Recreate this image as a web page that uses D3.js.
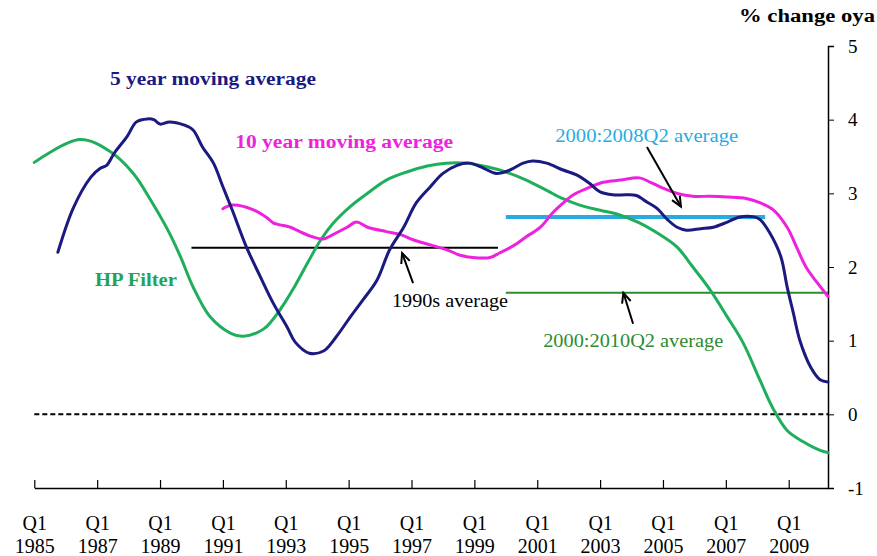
<!DOCTYPE html>
<html>
<head>
<meta charset="utf-8">
<script src="https://cdn.jsdelivr.net/npm/d3@7"></script>
<style>
  body { margin: 0; background: #fff; }
  text { font-family: 'Liberation Serif'; }
</style>
</head>
<body>
<div id="chart"></div>
<script>
// Series: [decimal year, % change oya]
const fiveYearMA = [
  [1985.75, 2.20], [1986.25, 2.81], [1986.8, 3.22], [1987.1, 3.34], [1987.3, 3.38],
  [1987.55, 3.55], [1987.95, 3.77], [1988.25, 3.97], [1988.6, 4.01], [1988.8, 4.00],
  [1989.0, 3.94], [1989.3, 3.97], [1989.75, 3.93], [1990.05, 3.86], [1990.35, 3.63],
  [1990.7, 3.41], [1991.0, 3.09], [1991.3, 2.77], [1991.75, 2.27], [1992.2, 1.86],
  [1992.6, 1.51], [1993.05, 1.18], [1993.3, 0.98], [1993.75, 0.83], [1994.2, 0.86],
  [1994.6, 1.05], [1995.05, 1.32], [1995.45, 1.55], [1995.9, 1.82], [1996.3, 2.23],
  [1996.75, 2.54], [1997.15, 2.87], [1997.6, 3.09], [1998.0, 3.27], [1998.45, 3.38],
  [1998.85, 3.41], [1999.3, 3.34], [1999.7, 3.27], [2000.15, 3.32], [2000.55, 3.41],
  [2000.85, 3.44], [2001.3, 3.41], [2001.8, 3.32], [2002.25, 3.25], [2002.65, 3.14],
  [2003.0, 3.02], [2003.4, 2.98], [2003.85, 2.98], [2004.15, 2.97], [2004.5, 2.88],
  [2004.8, 2.80], [2005.15, 2.64], [2005.45, 2.54], [2005.75, 2.50], [2006.2, 2.52],
  [2006.6, 2.54], [2007.05, 2.61], [2007.45, 2.68], [2007.9, 2.68], [2008.1, 2.64],
  [2008.4, 2.46], [2008.75, 2.14], [2008.95, 1.73], [2009.15, 1.37], [2009.35, 1.01],
  [2009.7, 0.64], [2010.0, 0.47], [2010.25, 0.44]
];

const tenYearMA = [
  [1991.0, 2.79], [1991.3, 2.84], [1991.95, 2.78], [1992.4, 2.67], [1992.6, 2.60],
  [1993.15, 2.54], [1993.35, 2.50], [1993.85, 2.41], [1994.2, 2.38], [1994.5, 2.44],
  [1994.95, 2.54], [1995.25, 2.61], [1995.6, 2.54], [1996.2, 2.48], [1996.65, 2.44],
  [1997.05, 2.37], [1997.6, 2.30], [1998.15, 2.23], [1998.55, 2.16], [1998.95, 2.13],
  [1999.5, 2.13], [1999.8, 2.19], [2000.25, 2.29], [2000.65, 2.41], [2001.1, 2.54],
  [2001.5, 2.74], [2001.8, 2.86], [2002.15, 2.98], [2002.6, 3.07], [2003.1, 3.15],
  [2003.65, 3.18], [2004.25, 3.21], [2004.6, 3.15], [2005.0, 3.07], [2005.45, 3.00],
  [2005.95, 2.96], [2006.5, 2.96], [2007.05, 2.95], [2007.65, 2.93], [2008.1, 2.87],
  [2008.5, 2.78], [2008.95, 2.54], [2009.25, 2.27], [2009.55, 2.00], [2009.9, 1.79],
  [2010.25, 1.60]
];

const hpFilter = [
  [1985.0, 3.42], [1986.45, 3.73], [1987.4, 3.57], [1988.15, 3.27], [1988.7, 2.91],
  [1989.25, 2.50], [1989.65, 2.14], [1990.05, 1.73], [1990.6, 1.32], [1991.25, 1.10],
  [1991.65, 1.06], [1992.3, 1.16], [1992.85, 1.44], [1993.3, 1.75], [1993.7, 2.06],
  [1994.1, 2.36], [1994.5, 2.59], [1995.05, 2.82], [1995.6, 3.00], [1996.2, 3.18],
  [1996.85, 3.29], [1997.5, 3.37], [1998.1, 3.41], [1998.75, 3.41], [1999.4, 3.36],
  [2000.0, 3.29], [2000.65, 3.18], [2001.3, 3.04], [2001.8, 2.93], [2002.35, 2.84],
  [2003.0, 2.77], [2003.6, 2.71], [2004.25, 2.60], [2004.9, 2.44], [2005.45, 2.27],
  [2005.95, 2.00], [2006.5, 1.69], [2007.05, 1.32], [2007.55, 0.97], [2008.1, 0.45],
  [2008.5, 0.08], [2008.95, -0.22], [2009.45, -0.37], [2010.0, -0.49], [2010.25, -0.52]
];

// Period averages: from, to, value
const averages = [
  { name: "1990s", from: 1990.0, to: 1999.75, value: 2.26, color: "#000000", width: 2 },
  { name: "2000:2008Q2", from: 2000.0, to: 2008.25, value: 2.68, color: "#29abe2", width: 4 },
  { name: "2000:2010Q2", from: 2000.0, to: 2010.25, value: 1.65, color: "#2e8b2e", width: 2 }
];

const yTicks = [-1, 0, 1, 2, 3, 4, 5];
const xTickYears = [1985, 1987, 1989, 1991, 1993, 1995, 1997, 1999, 2001, 2003, 2005, 2007, 2009];

// Text labels anchored in data units: start year, baseline value, text width
const labels = [
  { text: "5 year moving average", t: 1987.41, v: 4.47, len: 206, size: 18, bold: true, color: "#1a1a80" },
  { text: "10 year moving average", t: 1991.39, v: 3.61, len: 218, size: 18, bold: true, color: "#ee22dd" },
  { text: "HP Filter", t: 1986.93, v: 1.74, len: 82, size: 19, bold: true, color: "#22a35a" },
  { text: "1990s average", t: 1996.38, v: 1.46, len: 116, size: 18, bold: false, color: "#000000" },
  { text: "2000:2010Q2 average", t: 2001.19, v: 0.91, len: 180, size: 18, bold: false, color: "#2e8b2e" },
  { text: "2000:2008Q2 average", t: 2001.57, v: 3.70, len: 183, size: 18, bold: false, color: "#29abe2" }
];

// Arrows: tail -> tip, in data units
const arrows = [
  { from: [1997.05, 1.78], to: [1996.70, 2.19] },
  { from: [2004.49, 3.63], to: [2005.57, 2.82] },
  { from: [2004.05, 1.23], to: [2003.74, 1.65] }
];

const width = 877;
const height = 556;

const svg = d3.select('#chart')
  .append('svg')
  .attr('width', width)
  .attr('height', height);

const x = d3.scaleLinear().domain([1985, 2010.25]).range([34.3, 828]);
const y = d3.scaleLinear().domain([-1, 5]).range([488, 46]);

// Zero line
svg.append('line')
  .attr('x1', x(1985)).attr('x2', x(2010.25))
  .attr('y1', y(0)).attr('y2', y(0))
  .attr('stroke', '#000')
  .attr('stroke-width', 2)
  .attr('stroke-dasharray', '5,3');

// Bottom axis with ticks pointing up
const xAxis = svg.append('g')
  .attr('transform', `translate(0, ${y(-1)})`)
  .call(d3.axisBottom(x).tickValues(xTickYears).tickSizeInner(-8).tickSizeOuter(0).tickFormat(''));
xAxis.select('.domain').attr('stroke-width', 1.5);
xAxis.selectAll('.tick line').attr('stroke-width', 1.2);

xAxis.selectAll('.tick').append('text')
  .attr('fill', '#000')
  .attr('font-size', '20px')
  .attr('text-anchor', 'middle')
  .attr('y', 42)
  .text('Q1');
xAxis.selectAll('.tick').append('text')
  .attr('fill', '#000')
  .attr('font-size', '20px')
  .attr('text-anchor', 'middle')
  .attr('y', 65)
  .text(d => d);

// Right axis
const yAxis = svg.append('g')
  .attr('transform', `translate(${x(2010.25)}, 0)`)
  .call(d3.axisRight(y).tickValues(yTicks).tickSize(6).tickPadding(14).tickFormat(d => d));
yAxis.select('.domain').attr('stroke-width', 1.5);
yAxis.selectAll('text')
  .attr('font-size', '19px')
  .attr('fill', '#000');

// Average lines
svg.selectAll('.avg')
  .data(averages)
  .enter()
  .append('line')
  .attr('class', 'avg')
  .attr('x1', d => x(d.from))
  .attr('x2', d => x(d.to))
  .attr('y1', d => y(d.value))
  .attr('y2', d => y(d.value))
  .attr('stroke', d => d.color)
  .attr('stroke-width', d => d.width);

// Series lines
const line = d3.line()
  .x(d => x(d[0]))
  .y(d => y(d[1]))
  .curve(d3.curveCatmullRom.alpha(0.5));

const series = [
  { data: hpFilter, color: '#1fae5b' },
  { data: tenYearMA, color: '#ee22dd' },
  { data: fiveYearMA, color: '#1a1a80' }
];

series.forEach(s => {
  svg.append('path')
    .datum(s.data)
    .attr('d', line)
    .attr('fill', 'none')
    .attr('stroke', s.color)
    .attr('stroke-width', 3)
    .attr('stroke-linejoin', 'round')
    .attr('stroke-linecap', 'round');
});

// Arrows with open heads
arrows.forEach(a => {
  const x1 = x(a.from[0]), y1 = y(a.from[1]);
  const x2 = x(a.to[0]), y2 = y(a.to[1]);
  const ang = Math.atan2(y2 - y1, x2 - x1);
  const head = 11, spread = 0.42;
  svg.append('line')
    .attr('x1', x1).attr('y1', y1).attr('x2', x2).attr('y2', y2)
    .attr('stroke', '#000').attr('stroke-width', 2);
  svg.append('path')
    .attr('d', `M${x2 - head * Math.cos(ang - spread)},${y2 - head * Math.sin(ang - spread)}` +
               `L${x2},${y2}` +
               `L${x2 - head * Math.cos(ang + spread)},${y2 - head * Math.sin(ang + spread)}`)
    .attr('fill', 'none')
    .attr('stroke', '#000')
    .attr('stroke-width', 2)
    .attr('stroke-linejoin', 'miter');
});

// Labels
svg.selectAll('.label')
  .data(labels)
  .enter()
  .append('text')
  .attr('class', 'label')
  .attr('x', d => x(d.t))
  .attr('y', d => y(d.v))
  .attr('font-size', d => d.size + 'px')
  .attr('font-weight', d => d.bold ? 'bold' : 'normal')
  .attr('fill', d => d.color)
  .attr('textLength', d => d.len)
  .attr('lengthAdjust', 'spacingAndGlyphs')
  .text(d => d.text);

// Unit title
svg.append('text')
  .attr('x', 875)
  .attr('y', 22)
  .attr('text-anchor', 'end')
  .attr('font-size', '18px')
  .attr('font-weight', 'bold')
  .attr('fill', '#000')
  .attr('textLength', 136)
  .attr('lengthAdjust', 'spacingAndGlyphs')
  .text('% change oya');
</script>
</body>
</html>
